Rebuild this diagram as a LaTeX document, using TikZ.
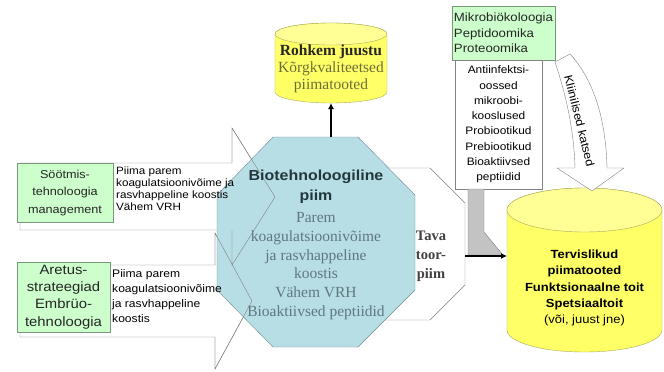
\documentclass[tikz,border=0pt]{standalone}
\usepackage{fontspec}
\setmainfont{Liberation Serif}
\setsansfont{Liberation Sans}[FakeStretch=1.1]
\usetikzlibrary{arrows.meta}

\definecolor{mintgreen}{RGB}{204,255,204}
\definecolor{mintedge}{RGB}{120,150,120}
\definecolor{lightteal}{RGB}{183,221,229}
\definecolor{tealedge}{RGB}{110,140,145}
\definecolor{tealtext}{RGB}{95,120,128}
\definecolor{titleteal}{RGB}{35,55,62}
\definecolor{lemon}{RGB}{255,255,102}
\definecolor{lemontop}{RGB}{255,255,150}
\definecolor{lemonedge}{RGB}{170,170,90}
\definecolor{olivetext}{RGB}{110,110,60}
\definecolor{shapeedge}{RGB}{130,130,130}
\definecolor{pointergray}{RGB}{195,195,195}

\newcommand{\setfs}[2]{\fontsize{#1}{#2}\selectfont}

\begin{document}
\begin{tikzpicture}[x=1pt,y=-1pt,
  greenbox/.style={draw=mintedge,fill=mintgreen,align=center,inner sep=2pt,text=black!85},
  notetext/.style={anchor=north west,align=left,inner sep=0pt},
  blockarrow/.style={draw=shapeedge,fill=white},
  canbody/.style={draw=lemonedge,fill=lemon},
  cantop/.style={draw=lemonedge,fill=lemontop},
  linkarrow/.style={line width=2pt,-{Latex[length=6pt,width=6pt]}}]
\useasboundingbox (0,0) rectangle (664,372);

% raw milk sits behind
\draw[blockarrow] (350,168) -- (430,168) -- (465,203) -- (465,285) -- (430,320) -- (350,320) -- (315,285) -- (315,203) -- cycle;

% input arrows
\draw[blockarrow] (20,163) -- (232,163) -- (232,128) -- (275,197) -- (232,265) -- (232,230) -- (20,230) -- cycle;
\draw[blockarrow] (20,265) -- (215,265) -- (215,233) -- (252,301) -- (215,369) -- (215,337) -- (20,337) -- cycle;

% biotech milk
\draw[draw=tealedge,fill=lightteal] (273,137) -- (358,137) -- (415,195) -- (415,290) -- (358,347) -- (273,347) -- (217,290) -- (217,195) -- cycle;

% arrow outlines show through
\draw[shapeedge] (232,163) -- (232,128) -- (275,197) -- (232,265) -- (232,230);
\draw[shapeedge] (215,265) -- (215,233) -- (252,301) -- (215,369) -- (215,337);

\path (316,187) node[font=\sffamily\bfseries\setfs{14.5}{20},text=titleteal,align=center] (biotitle) {Biotehnoloogiline\\piim};
\path (316,266) node[font=\setfs{15.5}{18.8},text=tealtext,align=center] (biotext) {Parem\\koagulatsioonivõime\\ja rasvhappeline\\koostis\\Vähem VRH\\Bioaktiivsed peptiidid};
\path (431,256) node[font=\bfseries\setfs{14.5}{19},text=black!75,align=center] (rawtext) {Tava\\toor-\\piim};

% left side
\path (65,193) node[greenbox,minimum width=96pt,minimum height=59pt,font=\sffamily\setfs{11.5}{17.5}] (feeding) {Söötmis-\\tehnoloogia\\management};
\path (63.5,297) node[greenbox,minimum width=93pt,minimum height=70pt,font=\sffamily\setfs{13.5}{17.3}] (breeding) {Aretus-\\strateegiad\\Embrüo-\\tehnoloogia};
\path (116,167) node[notetext,font=\sffamily\setfs{10.6}{12}] (feednote) {Piima parem\\koagulatsioonivõime ja\\rasvhappeline koostis\\Vähem VRH};
\path (112,269) node[notetext,font=\sffamily\setfs{11}{15}] (breednote) {Piima parem\\koagulatsioonivõime\\ja rasvhappeline\\koostis};

% top cylinder
\draw[canbody] (275,34) -- (275,92) arc[start angle=180,end angle=360,x radius=56pt,y radius=11pt] -- (387,34) arc[start angle=0,end angle=180,x radius=56pt,y radius=11pt] -- cycle;
\draw[cantop] (331,34) ellipse[x radius=56pt,y radius=11pt];
\path (331,69) node[font=\setfs{15.5}{17},text=olivetext,align=center] (cheesetext) {\textbf{\color{black!85}Rohkem juustu}\\Kõrgkvaliteetsed\\piimatooted};
\coordinate (biotop) at (331,137);
\coordinate (cheesebase) at (331,103);
\draw[linkarrow] (biotop) -- (cheesebase);

% right side
\path (503.5,33) node[greenbox,align=left,minimum width=103pt,minimum height=54pt,font=\sffamily\setfs{12}{15.5}] (omics) {Mikrobiökoloogia\\Peptidoomika\\Proteoomika};
\path (498.5,124.5) node[draw=shapeedge,fill=white,align=center,minimum width=87pt,minimum height=129pt,inner sep=0pt,font=\sffamily\setfs{10.8}{15.3}] (probox) {Antiinfektsi-\\oossed\\mikroobi-\\kooslused\\Probiootikud\\Prebiootikud\\Bioaktiivsed\\peptiidid};
\draw[draw=shapeedge,fill=pointergray] (468,189) -- (484,189) -- (484,232) -- (503,255) -- (468,255) -- cycle;

% health cylinder
\draw[canbody] (507,210) -- (507,330) arc[start angle=180,end angle=360,x radius=77.5pt,y radius=22pt] -- (662,210) arc[start angle=0,end angle=180,x radius=77.5pt,y radius=22pt] -- cycle;
\draw[cantop] (584.5,210) ellipse[x radius=77.5pt,y radius=22pt];
\path (584.5,288) node[font=\sffamily\setfs{11.8}{16.3},align=center] (healthtext) {\textbf{Tervislikud}\\\textbf{piimatooted}\\\textbf{Funktsionaalne toit}\\\textbf{Spetsiaaltoit}\\(või, juust jne)};

\coordinate (rawright) at (465,256);
\coordinate (healthleft) at (507,256);
\draw[linkarrow] (rawright) -- (healthleft);

% clinical trials arrow
\draw[blockarrow] (555,62) .. controls (566,95) and (574,130) .. (575,168) -- (557,168) -- (592,191) -- (624,168) -- (607,168) .. controls (606,120) and (594,80) .. (570,54) -- cycle;
\path (579.5,121) node[rotate=-76,font=\sffamily\setfs{11.5}{12}] (trials) {Kliinilised katsed};
\end{tikzpicture}
\end{document}
